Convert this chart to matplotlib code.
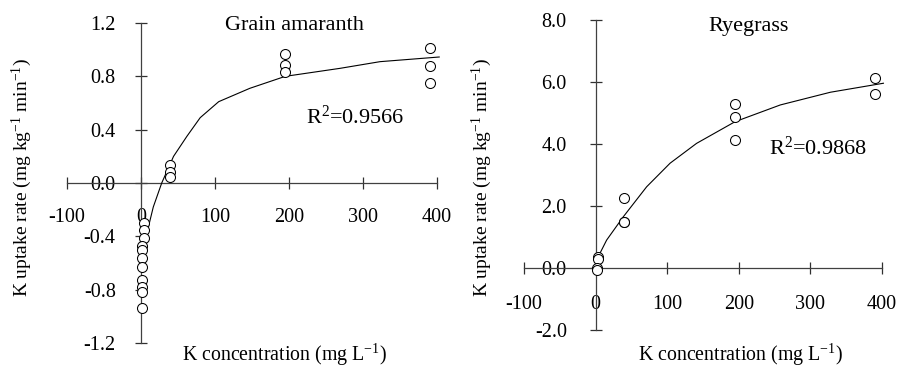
import numpy as np
import matplotlib
matplotlib.use("Agg")
import matplotlib.pyplot as plt

plt.rcParams["font.family"] = "Liberation Serif"
plt.rcParams["mathtext.fontset"] = "custom"
plt.rcParams["mathtext.rm"] = "Liberation Serif"
plt.rcParams["mathtext.it"] = "Liberation Serif:italic"

ga_x = [4, 4, 4, 1, 1, 1, 1, 1, 1, 1, 1, 39, 39, 39, 195, 195, 195, 390, 390, 390]
ga_y = [-0.30, -0.35, -0.41, -0.47, -0.50, -0.565, -0.63, -0.73, -0.78, -0.82, -0.935,
        0.135, 0.085, 0.047, 0.97, 0.885, 0.83, 1.015, 0.877, 0.752]
ga_fit_x = [2, 5.4, 10, 16.6, 28, 44, 62, 80, 105, 147, 195, 269, 323, 403]
ga_fit_y = [-0.62, -0.50, -0.33, -0.18, 0.0, 0.20, 0.35, 0.49, 0.61, 0.71, 0.80, 0.86, 0.91, 0.945]

# ryegrass
rg_x = [4, 4, 2, 2, 39, 39, 39, 195, 195, 195, 390, 390]
rg_y = [0.36, 0.30, 0.0, -0.06, 2.25, 1.50, 1.47, 5.28, 4.86, 4.13, 6.14, 5.61]
rg_fit_x = [1.4, 15.4, 38.6, 71.3, 104, 141, 194.8, 258, 328, 402]
rg_fit_y = [0.26, 0.90, 1.65, 2.62, 3.38, 4.02, 4.72, 5.26, 5.67, 5.96]

W, H = 902, 369
fig = plt.figure(figsize=(W / 100, H / 100), dpi=100)


def panel(box, px, py, fx, fy, ylim, yticks, ylabels, title, tpos, r2, rpos, xpad, ypad):
    l, r, b, t = box
    ax = fig.add_axes([l / W, 1 - b / H, (r - l) / W, (b - t) / H])
    ax.plot(fx, fy, color="black", lw=0.8, clip_on=False, zorder=3)
    ax.plot(px, py, "o", mfc="white", mec="black", ms=7.2, mew=0.75,
            clip_on=False, zorder=4)
    ax.set_xlim(-100, 400)
    ax.set_ylim(*ylim)
    for s in ["top", "right"]:
        ax.spines[s].set_visible(False)
    for s in ["left", "bottom"]:
        ax.spines[s].set_position(("data", 0))
        ax.spines[s].set_color("#404040")
        ax.spines[s].set_linewidth(0.9)
    ax.set_xticks([-100, 0, 100, 200, 300, 400])
    ax.set_xticklabels(["-100", "0", "100", "200", "300", "400"])
    ax.set_yticks(yticks)
    ax.set_yticklabels(ylabels)
    ax.tick_params(direction="inout", length=8.4, width=0.9, color="#303030",
                   labelsize=14.5)
    ax.tick_params(axis="x", pad=xpad)
    ax.tick_params(axis="y", pad=ypad)
    ax.patch.set_visible(False)
    ax.text(tpos[0], tpos[1], title, ha="center", va="center", fontsize=16)
    ax.text(rpos[0], rpos[1], r2, ha="center", va="center", fontsize=16)
    return ax


panel((67, 437, 343, 23), ga_x, ga_y, ga_fit_x, ga_fit_y, (-1.2, 1.2),
      [-1.2, -0.8, -0.4, 0.0, 0.4, 0.8, 1.2],
      ["-1.2", "-0.8", "-0.4", "0.0", "0.4", "0.8", "1.2"],
      "Grain amaranth", (207, 1.18), "R$^{2}$=0.9566", (290, 0.49), 13.5, 14)

panel((524, 882, 330, 20), rg_x, rg_y, rg_fit_x, rg_fit_y, (-2.0, 8.0),
      [-2.0, 0.0, 2.0, 4.0, 6.0, 8.0],
      ["-2.0", "0.0", "2.0", "4.0", "6.0", "8.0"],
      "Ryegrass", (213, 7.8), "R$^{2}$=0.9868", (311, 3.87), 15, 16.5)

ylab = "K uptake rate (mg kg$^{-1}$ min$^{-1}$)"
xlab = "K concentration (mg L$^{-1}$)"
fig.text(22 / W, 1 - 178 / H, ylab, rotation=90, ha="center", va="center", fontsize=14)
fig.text(482 / W, 1 - 178 / H, ylab, rotation=90, ha="center", va="center", fontsize=14)
fig.text(284 / W, 1 - 355 / H, xlab, ha="center", va="center", fontsize=14.3)
fig.text(740 / W, 1 - 355 / H, xlab, ha="center", va="center", fontsize=14.3)

fig.savefig("out.png", dpi=100)
